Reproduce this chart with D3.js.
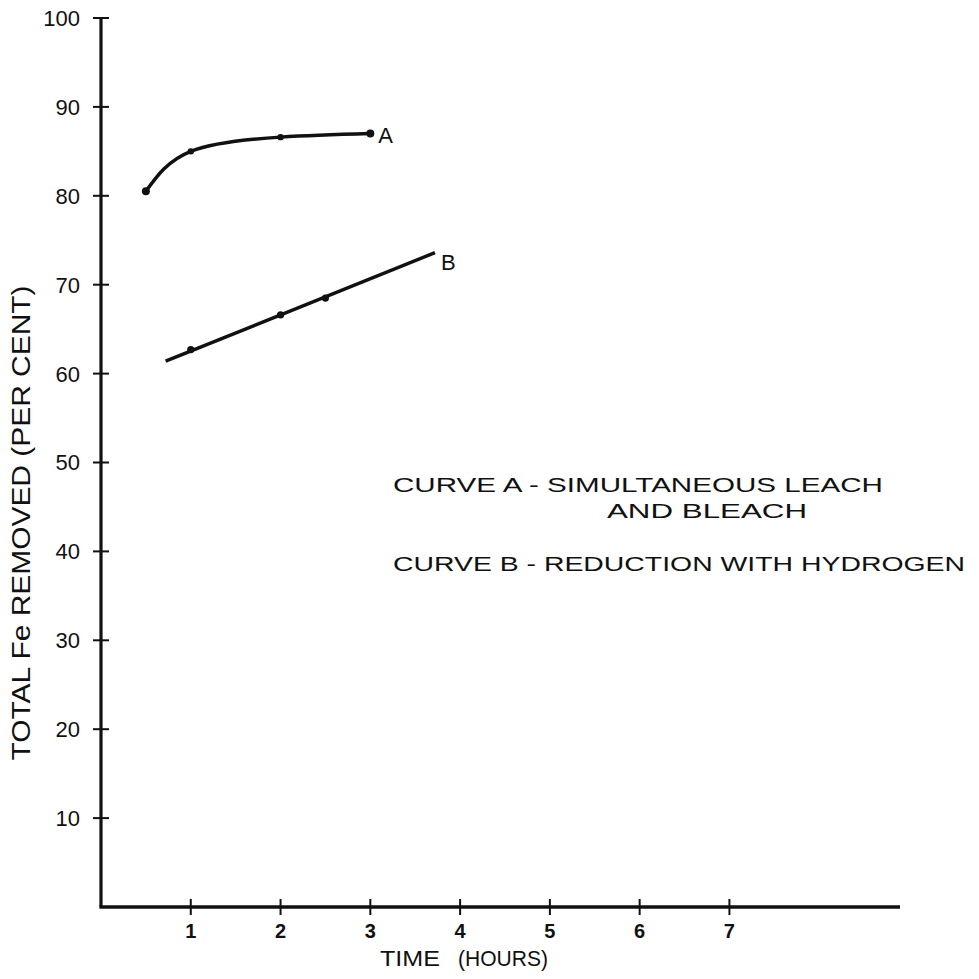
<!DOCTYPE html>
<html>
<head>
<meta charset="utf-8">
<script src="https://cdn.jsdelivr.net/npm/d3@7"></script>
<style>
  html, body { margin: 0; padding: 0; background: #fff; }
  svg { display: block; }
  text { font-family: "Liberation Sans", Arial, sans-serif; fill: #111; }
</style>
</head>
<body>
<svg id="chart" width="979" height="979"></svg>
<script>
// ---- data ----
const xTicks = [1, 2, 3, 4, 5, 6, 7];
const yTicks = [10, 20, 30, 40, 50, 60, 70, 80, 90, 100];
const curveA_hours = [0.5, 1, 2, 3];
const curveA_pct   = [80.5, 85.0, 86.6, 87.0];
const curveB_hours = [1, 2, 2.5];
const curveB_pct   = [62.7, 66.6, 68.5];
const curveB_lineHours = [0.72, 3.72];
const curveB_linePct   = [61.4, 73.6];
const xTitle = ["TIME", "(HOURS)"];
const yTitle = "TOTAL Fe REMOVED (PER CENT)";
const legendLines = ["CURVE A  -  SIMULTANEOUS LEACH", "AND BLEACH", "CURVE B  -  REDUCTION  WITH  HYDROGEN"];

const svg = d3.select("#chart");
const ink = "#111";

const x = d3.scaleLinear().domain([0, 8.9]).range([101, 900]);
const y = d3.scaleLinear().domain([0, 100]).range([907, 18]);

// axes lines
svg.append("line").attr("x1", x(0)).attr("x2", x(0)).attr("y1", y(100)).attr("y2", y(0))
  .attr("stroke", ink).attr("stroke-width", 3.2);
svg.append("line").attr("x1", x(0) - 1.6).attr("x2", x(8.9)).attr("y1", y(0)).attr("y2", y(0))
  .attr("stroke", ink).attr("stroke-width", 3.4);

// y ticks (crossing)
svg.selectAll(".yt").data(yTicks).join("line")
  .attr("x1", x(0) - 8).attr("x2", x(0) + 8)
  .attr("y1", d => y(d)).attr("y2", d => y(d))
  .attr("stroke", ink).attr("stroke-width", 2);
svg.selectAll(".yl").data(yTicks).join("text")
  .attr("x", 80).attr("y", d => y(d))
  .attr("dy", "0.36em").attr("text-anchor", "end")
  .attr("font-size", 22)
  .text(d => d);

// x ticks (crossing)
svg.selectAll(".xt").data(xTicks).join("line")
  .attr("x1", d => x(d)).attr("x2", d => x(d))
  .attr("y1", y(0) - 8).attr("y2", y(0) + 8)
  .attr("stroke", ink).attr("stroke-width", 2);
svg.selectAll(".xl").data(xTicks).join("text")
  .attr("x", d => x(d)).attr("y", y(0) + 31)
  .attr("text-anchor", "middle")
  .attr("font-size", 20).attr("font-weight", "bold")
  .text(d => d);

// axis titles
svg.append("text").attr("x", 380).attr("y", 966).attr("font-size", 22)
  .attr("textLength", 60).attr("lengthAdjust", "spacingAndGlyphs").text(xTitle[0]);
svg.append("text").attr("x", 458).attr("y", 966).attr("font-size", 22)
  .attr("textLength", 90).attr("lengthAdjust", "spacingAndGlyphs").text(xTitle[1]);
svg.append("text")
  .attr("transform", "translate(30,523) rotate(-90)")
  .attr("text-anchor", "middle").attr("font-size", 26)
  .attr("textLength", 475).attr("lengthAdjust", "spacingAndGlyphs")
  .text(yTitle);

// curve A
const ptsA = curveA_hours.map((h, i) => [h, curveA_pct[i]]);
const lineGen = d3.line().x(d => x(d[0])).y(d => y(d[1]));
svg.append("path").datum(ptsA)
  .attr("d", lineGen.curve(d3.curveNatural))
  .attr("fill", "none").attr("stroke", ink).attr("stroke-width", 3.5);
svg.selectAll(".pa").data(ptsA).join("circle")
  .attr("cx", d => x(d[0])).attr("cy", d => y(d[1]))
  .attr("r", (d, i) => (i === 0 || i === ptsA.length - 1) ? 4 : 3.2)
  .attr("fill", ink);
svg.append("text").attr("x", x(3) + 8).attr("y", y(87) + 9).attr("font-size", 22).text("A");

// curve B
const lineB = curveB_lineHours.map((h, i) => [h, curveB_linePct[i]]);
svg.append("path").datum(lineB)
  .attr("d", d3.line().x(d => x(d[0])).y(d => y(d[1])))
  .attr("fill", "none").attr("stroke", ink).attr("stroke-width", 3.5);
const ptsB = curveB_hours.map((h, i) => [h, curveB_pct[i]]);
svg.selectAll(".pb").data(ptsB).join("circle")
  .attr("cx", d => x(d[0])).attr("cy", d => y(d[1]))
  .attr("r", 3.6).attr("fill", ink);
svg.append("text").attr("x", x(3.72) + 6).attr("y", y(73.6) + 17).attr("font-size", 22).text("B");

// legend text
svg.append("text").attr("x", 393).attr("y", 492).attr("font-size", 21)
  .attr("textLength", 490).attr("lengthAdjust", "spacingAndGlyphs").text(legendLines[0]);
svg.append("text").attr("x", 607).attr("y", 518).attr("font-size", 21)
  .attr("textLength", 200).attr("lengthAdjust", "spacingAndGlyphs").text(legendLines[1]);
svg.append("text").attr("x", 393).attr("y", 571).attr("font-size", 21)
  .attr("textLength", 572).attr("lengthAdjust", "spacingAndGlyphs").text(legendLines[2]);
</script>
</body>
</html>
